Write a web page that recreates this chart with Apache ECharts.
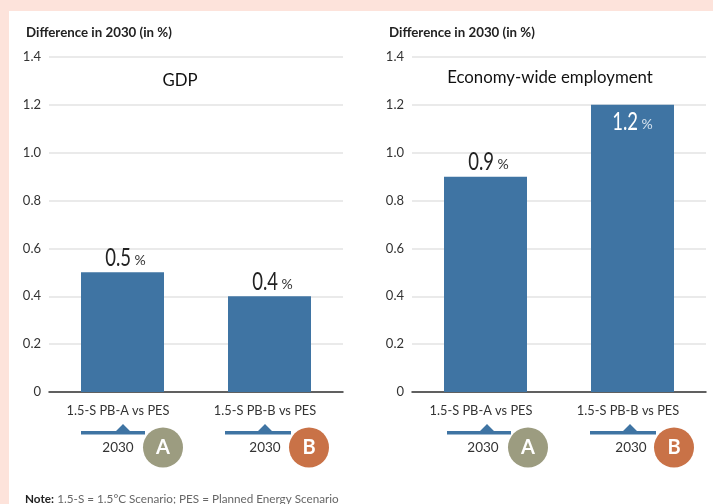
<!DOCTYPE html>
<html style="height: 100%">

<head>
  <meta charset="utf-8">
</head>

<body style="height: 100%; margin: 0; background: #fde3db">
  <div id="container" style="position: absolute; left: 9px; top: 11px; width: 704px; height: 493px; background: #fff"></div>
  <script src="https://cdn.jsdelivr.net/npm/echarts@6/dist/echarts.min.js"></script>
  <script type="text/javascript">
    var categories = ['1.5-S PB-A vs PES', '1.5-S PB-B vs PES'];
    var gdpValues = [0.5, 0.4];
    var employmentValues = [0.9, 1.2];
    var panelTitles = ['GDP', 'Economy-wide employment'];
    var axisName = 'Difference in 2030 (in %)';
    var badgeYear = '2030';
    var badges = ['A', 'B'];
    var badgeColors = ['#9c9c80', '#c97247'];

    var font = 'Lato';
    var barColor = '#3f74a3';

    // container sits at 9,11 so everything below is page pos minus that
    var ox = 9, oy = 11;

    // narrow value labels, no condensed font here so the text gets squeezed
    function renderValueLabel(params, api) {
      var v = api.value(1);
      var p = api.coord([api.value(0), v]);
      var inside = v > 1;
      var dx = inside ? -3 : 0;
      return {
        type: 'group',
        children: [
          {
            type: 'text', x: p[0] + 8.5 + dx, y: p[1] + (inside ? 17.5 : -14.5), scaleX: 0.74,
            style: {
              text: v.toFixed(1), fill: inside ? '#fff' : '#222', font: '25px ' + font,
              textAlign: 'right', textVerticalAlign: 'middle'
            }
          },
          {
            type: 'text', x: p[0] + 12 + dx, y: p[1] + (inside ? 20 : -12),
            style: {
              text: '%', fill: inside ? '#d5e2ee' : '#333', font: '14px ' + font,
              textAlign: 'left', textVerticalAlign: 'middle'
            }
          }
        ]
      };
    }

    function labelData(values) {
      return values.map(function (v, i) { return [i, v]; });
    }

    function bracket(left, peak, right) {
      return {
        type: 'polygon',
        shape: {
          points: [
            [left - ox, 431 - oy], [peak - 7 - ox, 431 - oy], [peak - ox, 424 - oy], [peak + 7 - ox, 431 - oy],
            [right - ox, 431 - oy], [right - ox, 434.5 - oy], [left - ox, 434.5 - oy]
          ]
        },
        style: { fill: barColor }
      };
    }

    function badge(cx, textX, index) {
      return [
        { type: 'circle', shape: { cx: cx - ox, cy: 447.5 - oy, r: 20 }, style: { fill: badgeColors[index] }, z: 5 },
        {
          type: 'text', x: cx - ox, y: 447.5 - oy, z: 6,
          style: { text: badges[index], fill: '#fff', font: 'bold 20px ' + font, textAlign: 'center', textVerticalAlign: 'middle' }
        },
        {
          type: 'text', x: textX - ox, y: 448 - oy,
          style: { text: badgeYear, fill: '#333', font: '13.5px ' + font, textAlign: 'center', textVerticalAlign: 'middle' }
        }
      ];
    }

    function titleText(text, x, y) {
      return {
        type: 'text', x: x - ox, y: y - oy,
        style: { text: text, fill: '#111', font: '16.8px ' + font, textAlign: 'center', textVerticalAlign: 'middle' }
      };
    }

    function yAxis(gridIndex) {
      return {
        type: 'value',
        gridIndex: gridIndex,
        min: 0,
        max: 1.4,
        interval: 0.2,
        name: axisName,
        nameLocation: 'end',
        nameGap: 18,
        nameTextStyle: { fontFamily: font, fontSize: 13.3, fontWeight: 'bold', color: '#222', align: 'left', padding: [0, 0, 0, -23] },
        axisLine: { show: false },
        axisTick: { show: false },
        axisLabel: {
          margin: 8,
          fontFamily: font,
          fontSize: 13,
          color: '#333',
          formatter: function (v) { return v === 0 ? '0' : v.toFixed(1); }
        },
        splitLine: { lineStyle: { color: '#e3e3e3', width: 1.5 } }
      };
    }

    function xAxis(gridIndex) {
      return {
        type: 'category',
        gridIndex: gridIndex,
        data: categories,
        axisLine: { lineStyle: { color: '#333', width: 1.5 } },
        axisTick: { show: false },
        axisLabel: { margin: 12, fontFamily: font, fontSize: 12.8, color: '#333', interval: 0, padding: [0, 9, 0, 0] }
      };
    }

    function barSeries(index, values) {
      return {
        type: 'bar', xAxisIndex: index, yAxisIndex: index, barWidth: 83,
        itemStyle: { color: barColor },
        data: values
      };
    }

    function labelSeries(index, values) {
      return {
        type: 'custom', xAxisIndex: index, yAxisIndex: index, z: 5,
        renderItem: renderValueLabel,
        data: labelData(values)
      };
    }

    var graphics = [bracket(81, 123, 145), bracket(225, 265, 291), bracket(447, 487, 511), bracket(590, 630, 656)]
      .concat(badge(163, 118, 0), badge(309, 265, 1), badge(528, 483, 0), badge(674, 631, 1));
    graphics.push(titleText(panelTitles[0], 180, 81), titleText(panelTitles[1], 550, 78));
    graphics.push({
      type: 'text', x: 25 - ox, y: 499.5 - oy,
      style: {
        text: '{b|Note:} {t|1.5-S = 1.5°C Scenario; PES = Planned Energy Scenario}',
        textVerticalAlign: 'middle',
        rich: {
          b: { font: 'bold 11.7px ' + font, fill: '#222' },
          t: { font: '11.7px ' + font, fill: '#666' }
        }
      }
    });

    var myChart = echarts.init(document.getElementById('container'));
    myChart.setOption({
      animation: false,
      grid: [
        { left: 49 - ox, top: 57 - oy, width: 294, height: 335 },
        { left: 412 - ox, top: 57 - oy, width: 294, height: 335 }
      ],
      xAxis: [xAxis(0), xAxis(1)],
      yAxis: [yAxis(0), yAxis(1)],
      series: [
        barSeries(0, gdpValues),
        labelSeries(0, gdpValues),
        barSeries(1, employmentValues),
        labelSeries(1, employmentValues)
      ],
      graphic: graphics
    });
  </script>
</body>

</html>
